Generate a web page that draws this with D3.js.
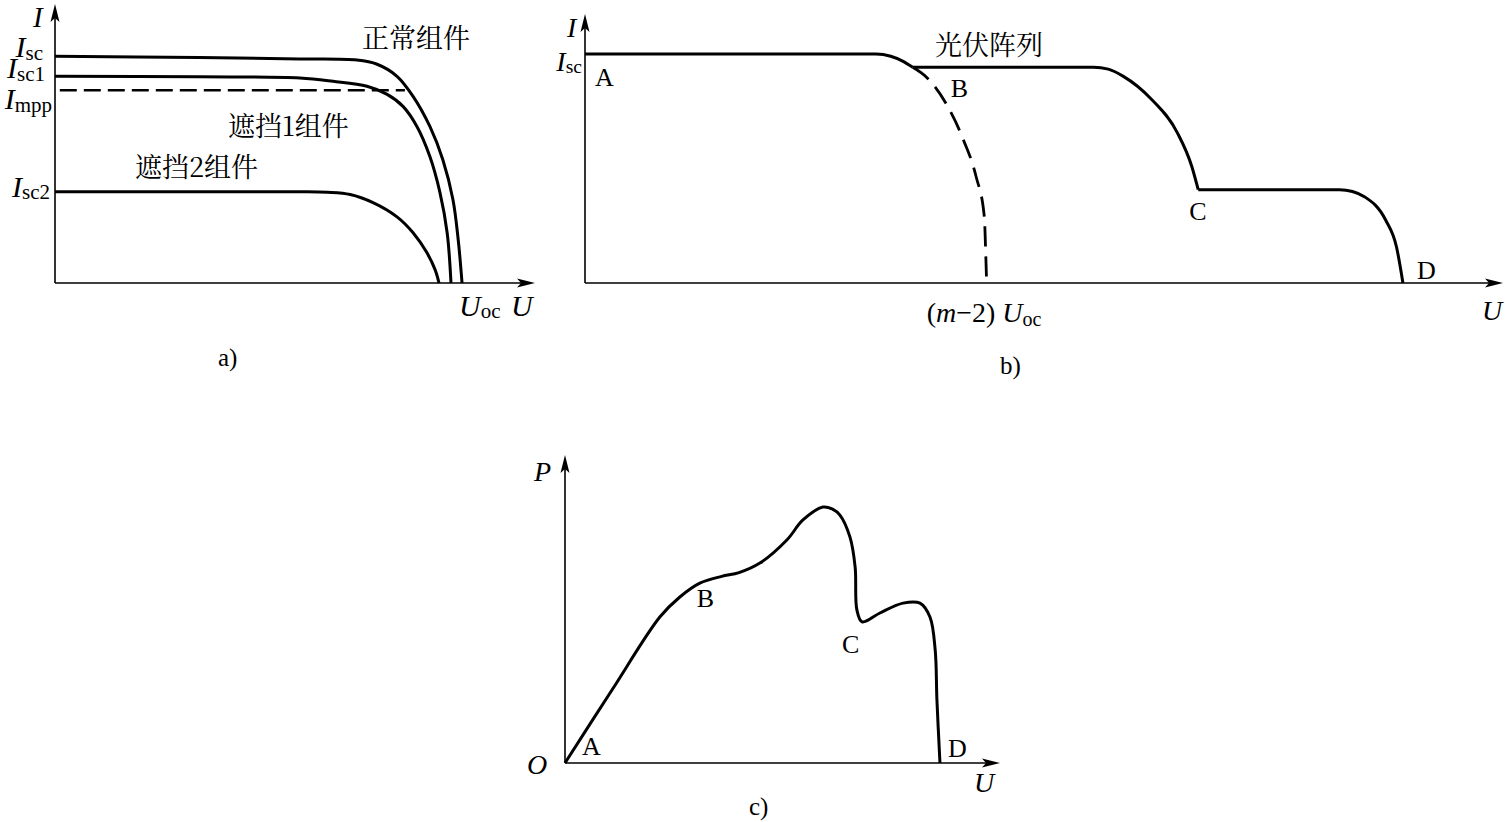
<!DOCTYPE html>
<html><head><meta charset="utf-8">
<script src="https://cdn.jsdelivr.net/npm/d3@7"></script>
<style>
html,body{margin:0;padding:0;background:#fff;}
svg{display:block;}
</style></head>
<body>
<svg id="chart" width="1505" height="822"></svg>
<script>
// ---------- DATA ----------
// Panel a) I-U curves of single modules (U, I in relative units 0..100)
const aNormal = [[0,81.3],[30,80.8],[51.0,80.3],[62.9,79.9],[67.1,78.4],[71.25,74.1],[74.6,66.9],[78.1,56.1],[80.8,44.2],[82.9,29.9],[84.0,15.5],[84.8,0]];
const aShade1 = [[0,74.1],[30,73.9],[51.0,73.5],[57.9,72.3],[65.0,70.5],[69.2,67.6],[72.5,63.3],[75.4,56.1],[78.1,45.3],[80.2,32.4],[81.7,18.0],[82.5,0]];
const aShade2 = [[0,32.7],[30,32.7],[51.0,32.7],[56.7,32.5],[61.5,31.7],[66.25,28.8],[71.25,23.7],[74.6,18.0],[77.5,10.8],[79.2,4.7],[80.0,0]];
const aImpp   = [[1.0,69.1],[72.9,69.1]];
const aTickLabels = [
  {main:"I", sub:"sc",  value:81.3},
  {main:"I", sub:"sc1", value:74.1},
  {main:"I", sub:"mpp", value:69.1},
  {main:"I", sub:"sc2", value:32.7}
];
const aCurveNames = ["正常组件","遮挡1组件","遮挡2组件"];

// Panel b) array I-U curve
const bSegA = [[0,85.1],[31.7,85.1],[33.3,84.3],[34.6,82.5],[35.7,80.2]];
const bSegB = [[35.7,80.2],[55.4,80.2],[57.0,79.5],[58.6,76.9],[61.7,68.3],[64.5,56.0],[66.1,43.3],[66.8,34.7]];
const bSegC = [[66.8,34.7],[82.2,34.7],[83.6,34.0],[84.9,32.1],[87.2,23.5],[88.4,13.4],[89.1,0]];
const bDashed = [[35.7,80.2],[37.2,76.5],[39.5,65.7],[41.2,53.4],[42.6,39.6],[43.5,24.6],[43.65,11.2],[43.75,0]];
const bPoints = [{name:"A",u:0,i:85.1},{name:"B",u:35.7,i:80.2},{name:"C",u:66.8,i:34.7},{name:"D",u:89.1,i:0}];
const bTickLabel = {main:"I", sub:"sc", value:85.1};
const bXTick = {value:43.75};
const bCurveName = "光伏阵列";

// Panel c) P-U curve
const cCurve = [[0,0],[10.8,23.7],[21.8,47.4],[26.4,53.9],[31.0,58.4],[36.0,60.6],[40.0,61.8],[44.8,64.9],[51.0,72.4],[54.7,78.9],[59.3,83.1],[61.4,82.5],[63.2,80.5],[65.5,73.4],[66.7,63.6],[67.1,49.7],[68.3,45.8],[72.4,48.7],[77.7,51.9],[81.6,51.9],[83.9,47.4],[85.1,36.7],[85.5,20.5],[86.2,0]];
const cPoints = [{name:"A",u:0,p:0},{name:"B",u:37.2,p:60.7},{name:"C",u:68.3,p:45.8},{name:"D",u:86.2,p:0}];

// ---------- DRAWING ----------
const svg = d3.select("#chart");
const SERIF = '"Liberation Serif","Times New Roman",serif';
const CJK = '"Noto Serif CJK SC","Noto Sans CJK SC",sans-serif';

function arrowUp(g, x, y){
  g.append("path").attr("d",`M${x},${y} L${x-4.5},${y+18} L${x},${y+14} L${x+4.5},${y+18} Z`).attr("fill","#000");
}
function arrowRight(g, x, y){
  g.append("path").attr("d",`M${x},${y} L${x-18},${y-4.5} L${x-14},${y} L${x-18},${y+4.5} Z`).attr("fill","#000");
}
function axes(g, xs, ys){
  const x0 = xs.range()[0], x1 = xs.range()[1];
  const y0 = ys.range()[0], y1 = ys.range()[1];
  g.append("g").attr("transform",`translate(0,${y0})`)
    .call(d3.axisBottom(xs).ticks(0).tickSizeOuter(0))
    .call(s=>s.select(".domain").attr("stroke","#000").attr("stroke-width",1.6).attr("d",`M${x0},0H${x1-4}`));
  g.append("g").attr("transform",`translate(${x0},0)`)
    .call(d3.axisLeft(ys).ticks(0).tickSizeOuter(0))
    .call(s=>s.select(".domain").attr("stroke","#000").attr("stroke-width",1.6).attr("d",`M0,${y0}V${y1+4}`));
  arrowUp(g, x0, y1);
  arrowRight(g, x1, y0);
}
function subLabel(g, x, y, main, sub, size, anchor, italicMain=true){
  const t = g.append("text").attr("x",x).attr("y",y).attr("font-family",SERIF)
    .attr("font-size",size).attr("text-anchor",anchor||"start");
  t.append("tspan").attr("font-style",italicMain?"italic":"normal").text(main);
  t.append("tspan").attr("font-size",size*0.7).attr("dy",size*0.08).text(sub);
  return t;
}
function plainText(g, x, y, txt, size, opts={}){
  return g.append("text").attr("x",x).attr("y",y)
    .attr("font-family",opts.cjk?CJK:SERIF).attr("font-size",size)
    .attr("font-style",opts.italic?"italic":"normal")
    .attr("text-anchor",opts.anchor||"start").text(txt);
}

// ---- Panel a ----
const ga = svg.append("g");
const xa = d3.scaleLinear([0,100],[55,535]);
const ya = d3.scaleLinear([0,100],[283,4]);
axes(ga, xa, ya);
const lineA = d3.line().x(d=>xa(d[0])).y(d=>ya(d[1])).curve(d3.curveCatmullRom.alpha(0.5));
[aNormal, aShade1, aShade2].forEach(s=>{
  ga.append("path").attr("d",lineA(s)).attr("fill","none").attr("stroke","#000").attr("stroke-width",3);
});
ga.append("path").attr("d",d3.line().x(d=>xa(d[0])).y(d=>ya(d[1]))(aImpp))
  .attr("fill","none").attr("stroke","#000").attr("stroke-width",2.6).attr("stroke-dasharray","17,7");
const aLabelLayout = [{dx:-12,dy:1},{dx:-10,dy:2},{dx:-3,dy:19},{dx:-5,dy:5}];
aTickLabels.forEach((t,k)=>{
  subLabel(ga, xa(0)+aLabelLayout[k].dx, ya(t.value)+aLabelLayout[k].dy, t.main, t.sub, 30, "end");
});
plainText(ga, xa(0)-22, 27, "I", 29, {italic:true});
plainText(ga, 362, 48, aCurveNames[0], 27, {cjk:true});
plainText(ga, 228, 136, aCurveNames[1], 27, {cjk:true});
plainText(ga, 135, 177, aCurveNames[2], 27, {cjk:true});
subLabel(ga, 459, 316, "U", "oc", 30, "start");
plainText(ga, 511, 316, "U", 30, {italic:true});
plainText(ga, 218, 366, "a)", 25);

// ---- Panel b ----
const gb = svg.append("g");
const xb = d3.scaleLinear([0,100],[585,1503]);
const yb = d3.scaleLinear([0,100],[283,14]);
axes(gb, xb, yb);
const lineB = d3.line().x(d=>xb(d[0])).y(d=>yb(d[1])).curve(d3.curveMonotoneX);
[bSegA, bSegB, bSegC].forEach(s=>{
  gb.append("path").attr("d",lineB(s)).attr("fill","none").attr("stroke","#000").attr("stroke-width",3);
});
gb.append("path").attr("d",lineB(bDashed)).attr("fill","none").attr("stroke","#000")
  .attr("stroke-width",2.8).attr("stroke-dasharray","20,10");
subLabel(gb, xb(0)-3, yb(bTickLabel.value)+17, bTickLabel.main, bTickLabel.sub, 28, "end");
plainText(gb, xb(0)-18, 37, "I", 28, {italic:true});
const bLabelLayout = [{dx:10,dy:32},{dx:38,dy:30},{dx:-9,dy:30},{dx:14,dy:-4}];
bPoints.forEach((p,k)=>{
  plainText(gb, xb(p.u)+bLabelLayout[k].dx, yb(p.i)+bLabelLayout[k].dy, p.name, 26);
});
plainText(gb, 935, 55, bCurveName, 27, {cjk:true});
{
  const t = gb.append("text").attr("x", xb(bXTick.value)-60).attr("y",322).attr("font-family",SERIF).attr("font-size",28);
  t.append("tspan").text("(");
  t.append("tspan").attr("font-style","italic").text("m");
  t.append("tspan").text("−2) ");
  t.append("tspan").attr("font-style","italic").text("U");
  t.append("tspan").attr("font-size",20).attr("dy",4).text("oc");
}
plainText(gb, 1482, 320, "U", 28, {italic:true});
plainText(gb, 1000, 374, "b)", 25);

// ---- Panel c ----
const gc = svg.append("g");
const xc = d3.scaleLinear([0,100],[565,1000]);
const yc = d3.scaleLinear([0,100],[763,455]);
axes(gc, xc, yc);
const lineC = d3.line().x(d=>xc(d[0])).y(d=>yc(d[1])).curve(d3.curveCatmullRom.alpha(0.5));
gc.append("path").attr("d",lineC(cCurve)).attr("fill","none").attr("stroke","#000").attr("stroke-width",3);
const cLabelLayout = [{dx:17,dy:-8},{dx:-30,dy:31},{dx:-20,dy:31},{dx:8,dy:-6}];
cPoints.forEach((p,k)=>{
  plainText(gc, xc(p.u)+cLabelLayout[k].dx, yc(p.p)+cLabelLayout[k].dy, p.name, 26);
});
plainText(gc, 534, 481, "P", 28, {italic:true});
plainText(gc, 527, 774, "O", 28, {italic:true});
plainText(gc, 974, 792, "U", 28, {italic:true});
plainText(gc, 749, 815, "c)", 25);
</script>
</body></html>
